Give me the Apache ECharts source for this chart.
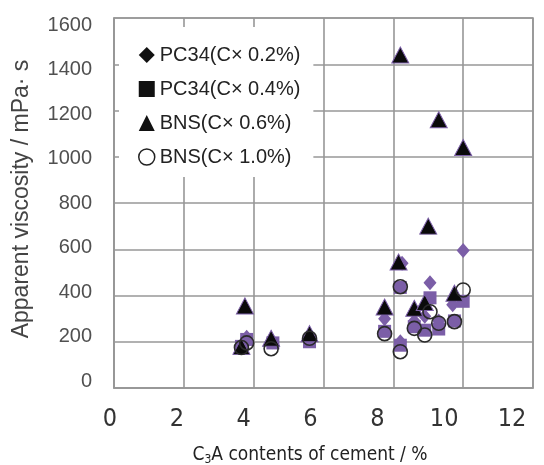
<!DOCTYPE html>
<html>
<head>
<meta charset="utf-8">
<style>
  html, body { margin: 0; padding: 0; background: #ffffff; }
  #chart { width: 544px; height: 465px; }
</style>
<script src="https://cdn.jsdelivr.net/npm/echarts@6/dist/echarts.min.js"></script>
</head>
<body>
<div id="chart"></div>
<script>
// C3A content of cement (%) and apparent viscosity (mPa·s) for each admixture dosage
const pc34Low_x  = [3.65, 3.8, 4.55, 5.6, 7.75, 8.25, 8.2, 8.6, 8.9, 9.05, 9.3, 9.7, 10.0];
const pc34Low_y  = [185, 220, 200, 220, 300, 540, 200, 290, 310, 455, 290, 360, 595];

const pc34High_x = [3.65, 3.8, 4.55, 5.6, 7.75, 8.2, 8.2, 8.6, 8.9, 9.05, 9.3, 9.75, 10.0];
const pc34High_y = [180, 210, 195, 200, 245, 435, 185, 265, 250, 390, 255, 290, 375];

const bnsLow_x   = [3.65, 3.75, 4.5, 5.6, 7.75, 8.15, 8.2, 8.6, 8.9, 9.0, 9.3, 9.75, 10.0];
const bnsLow_y   = [180, 355, 215, 235, 350, 545, 1440, 345, 370, 700, 1160, 410, 1040];

const bnsHigh_x  = [3.65, 3.8, 4.5, 5.6, 7.75, 8.2, 8.2, 8.6, 8.9, 9.05, 9.3, 9.75, 10.0];
const bnsHigh_y  = [175, 195, 170, 215, 235, 438, 157, 258, 229, 330, 280, 287, 424];

const seriesNames = ['PC34(C× 0.2%)', 'PC34(C× 0.4%)', 'BNS(C× 0.6%)', 'BNS(C× 1.0%)'];
const xTicks = [0, 2, 4, 6, 8, 10, 12];
const yTicks = [0, 200, 400, 600, 800, 1000, 1200, 1400, 1600];

const PURPLE = '#7b5ea7';
const GRID_GRAY = '#979797';
const SANS = '"Liberation Sans", Arial, sans-serif';
const NARROW = '"Liberation Sans Narrow", "Arial Narrow", "DejaVu Sans Condensed", sans-serif';

function pairs(xs, ys) {
  return xs.map((x, i) => [x, ys[i]]);
}

// per-label nudges so the tick text sits where the printed scale places it
const xRich = {};
xTicks.forEach(v => {
  const shift = Math.round(4 + 1.45 * v);
  xRich['t' + v] = { padding: [0, shift * 2, 0, 0], fontFamily: NARROW, fontSize: 25, color: '#333333' };
});
const yRich = {};
yTicks.forEach(v => {
  const d = 7.5 - 14.5 * (1 - v / 1600);
  const p = Math.round(Math.abs(d) * 2);
  yRich['t' + v] = {
    padding: d >= 0 ? [p, 0, 0, 0] : [0, 0, p, 0],
    fontFamily: SANS, fontSize: 20, color: '#505050'
  };
});

const chart = echarts.init(document.getElementById('chart'), null, { renderer: 'canvas' });

const option = {
  animation: false,
  backgroundColor: '#ffffff',
  grid: {
    left: 114, right: 11, top: 18, bottom: 77,
    show: true, borderColor: GRID_GRAY, borderWidth: 1.6, backgroundColor: '#ffffff'
  },
  xAxis: {
    type: 'value', min: 0, max: 12, interval: 2,
    axisLine: { show: true, lineStyle: { color: GRID_GRAY, width: 1.6 } },
    axisTick: { show: false },
    splitLine: { show: true, lineStyle: { color: GRID_GRAY, width: 1.6 } },
    axisLabel: {
      margin: 19,
      formatter: v => '{t' + v + '|' + v + '}',
      rich: xRich
    }
  },
  yAxis: {
    type: 'value', min: 0, max: 1600, interval: 200,
    axisLine: { show: true, lineStyle: { color: GRID_GRAY, width: 1.6 } },
    axisTick: { show: false },
    splitLine: { show: true, lineStyle: { color: GRID_GRAY, width: 1.6 } },
    axisLabel: {
      margin: 22,
      formatter: v => '{t' + v + '|' + v + '}',
      rich: yRich
    }
  },
  legend: {
    orient: 'vertical',
    left: 119, top: 27,
    padding: [18, 13, 10, 19],
    itemGap: 14,
    itemWidth: 16, itemHeight: 16,
    backgroundColor: '#ffffff',
    textStyle: { fontFamily: SANS, fontSize: 20, color: '#222222', lineHeight: 20 },
    data: [
      { name: seriesNames[0], icon: 'diamond', itemStyle: { color: '#111111', borderWidth: 0 } },
      { name: seriesNames[1], icon: 'rect', itemStyle: { color: '#111111', borderWidth: 0 } },
      { name: seriesNames[2], icon: 'triangle', itemStyle: { color: '#111111', borderWidth: 0 } },
      { name: seriesNames[3], icon: 'circle', itemStyle: { color: '#ffffff', borderColor: '#222222', borderWidth: 1.5 } }
    ]
  },
  graphic: [
    {
      type: 'text', x: 22, y: 199, rotation: Math.PI / 2,
      style: {
        text: 'Apparent viscosity / mPa· s',
        font: '23px ' + SANS,
        fill: '#444444', align: 'center', verticalAlign: 'middle'
      }
    },
    {
      type: 'text', x: 310, y: 455,
      style: {
        text: 'C{sub|3}A contents of cement / %',
        font: '19px ' + NARROW,
        fill: '#222222', align: 'center', verticalAlign: 'middle',
        rich: {
          sub: { font: '12px ' + NARROW, fill: '#222222', verticalAlign: 'bottom', padding: [9, 0, 0, 0] }
        }
      }
    }
  ],
  series: [
    {
      name: seriesNames[0], type: 'scatter', symbol: 'diamond', symbolSize: [13, 15],
      itemStyle: { color: PURPLE, opacity: 1 },
      data: pairs(pc34Low_x, pc34Low_y)
    },
    {
      name: seriesNames[1], type: 'scatter', symbol: 'rect', symbolSize: 13,
      itemStyle: { color: PURPLE, opacity: 1 },
      data: pairs(pc34High_x, pc34High_y)
    },
    {
      name: seriesNames[2], type: 'scatter', symbol: 'triangle', symbolSize: [17, 16],
      itemStyle: { color: '#0a0a0a', borderColor: PURPLE, borderWidth: 1, opacity: 1 },
      data: pairs(bnsLow_x, bnsLow_y)
    },
    {
      name: seriesNames[3], type: 'scatter', symbol: 'circle', symbolSize: 14,
      itemStyle: { color: 'rgba(0,0,0,0)', borderColor: '#2a2a2a', borderWidth: 1.6, opacity: 1 },
      data: pairs(bnsHigh_x, bnsHigh_y)
    }
  ]
};

chart.setOption(option);
</script>
</body>
</html>
